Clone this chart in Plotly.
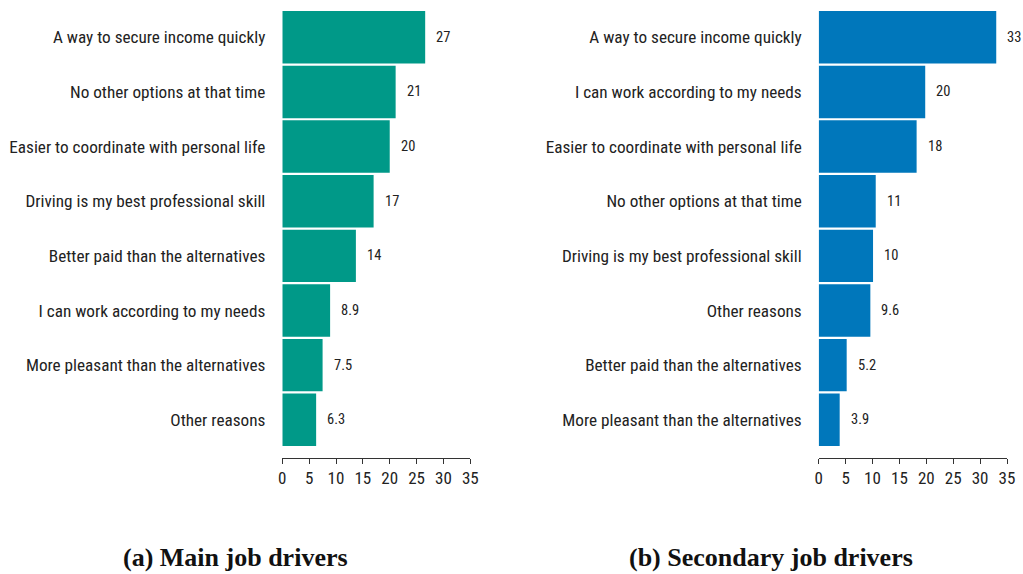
import plotly.graph_objects as go

main_labels = ["A way to secure income quickly", "No other options at that time",
               "Easier to coordinate with personal life", "Driving is my best professional skill",
               "Better paid than the alternatives", "I can work according to my needs",
               "More pleasant than the alternatives", "Other reasons"]
main_values = [26.6, 21.1, 20.0, 17.0, 13.7, 8.9, 7.5, 6.3]

sec_labels = ["A way to secure income quickly", "I can work according to my needs",
              "Easier to coordinate with personal life", "No other options at that time",
              "Driving is my best professional skill", "Other reasons",
              "Better paid than the alternatives", "More pleasant than the alternatives"]
sec_values = [33.0, 19.8, 18.2, 10.6, 10.1, 9.6, 5.2, 3.9]

x_ticks = [0, 5, 10, 15, 20, 25, 30, 35]
titles = ["(a) Main job drivers", "(b) Secondary job drivers"]

TEAL = "#009988"
BLUE = "#0077BB"
LABEL_FONT = "Roboto Condensed, Liberation Sans Narrow, DejaVu Sans Condensed, Roboto, sans-serif"

# the page's body margin is removed (post_script), so the figure fills the window
W, H, OFF = 1023, 574, 0
def px(xp):
    return (xp - OFF) / W
def py(yp):
    return (OFF + H - yp) / H

fig = go.Figure()
fig.add_trace(go.Bar(x=main_values, y=list(range(len(main_labels))), orientation="h",
                     marker=dict(color=TEAL, line=dict(width=0)), xaxis="x", yaxis="y",
                     showlegend=False, hoverinfo="x+y"))
fig.add_trace(go.Bar(x=sec_values, y=list(range(len(sec_labels))), orientation="h",
                     marker=dict(color=BLUE, line=dict(width=0)), xaxis="x2", yaxis="y2",
                     showlegend=False, hoverinfo="x+y"))

annotations = []
for xref, yref, vals in (("x", "y", main_values), ("x2", "y2", sec_values)):
    for i, v in enumerate(vals):
        txt = f"{v:.2g}" if v < 10 else f"{round(v):d}"
        annotations.append(dict(x=v, y=i, xref=xref, yref=yref, text=txt, showarrow=False,
                                xanchor="left", yanchor="middle", xshift=9,
                                font=dict(family=LABEL_FONT, size=14.5, color="#222")))

for title, cx in zip(titles, (235, 771)):
    annotations.append(dict(x=px(cx), y=py(557), xref="paper", yref="paper",
                            xanchor="center", yanchor="middle",
                            text="<b>" + title + "</b>", showarrow=False,
                            font=dict(family="Liberation Serif, serif", size=26, color="#111")))

y_dom = [py(458), min(1.0, py(10))]
xcommon = dict(range=[0, 35], tickvals=x_ticks, ticks="outside", ticklen=5, tickcolor="#333",
               showline=True, linecolor="#333", linewidth=1, showgrid=False, zeroline=False,
               automargin=False,
               tickfont=dict(family=LABEL_FONT, size=17, color="#222"), fixedrange=True)
ycommon = dict(range=[7.7, -0.5], showgrid=False, zeroline=False, showline=False, ticks="",
               automargin=False,
               ticklabelstandoff=16, tickfont=dict(family=LABEL_FONT, size=17.2, color="#222"),
               domain=y_dom, fixedrange=True)

fig.update_layout(
    width=W, height=H, margin=dict(l=0, r=0, t=0, b=0, pad=0), autosize=False,
    paper_bgcolor="white", plot_bgcolor="white", bargap=0.04,
    xaxis=dict(domain=[px(282.3), px(470.3)], anchor="y", **xcommon),
    xaxis2=dict(domain=[px(818.7), px(1007)], anchor="y2", **xcommon),
    yaxis=dict(anchor="x", tickvals=list(range(len(main_labels))), ticktext=main_labels, **ycommon),
    yaxis2=dict(anchor="x2", tickvals=list(range(len(sec_labels))), ticktext=sec_labels, **ycommon),
    annotations=annotations,
)

fig.write_html("out.html", config={"displayModeBar": False},
               post_script="document.body.style.margin='0';document.body.style.overflow='hidden';")
